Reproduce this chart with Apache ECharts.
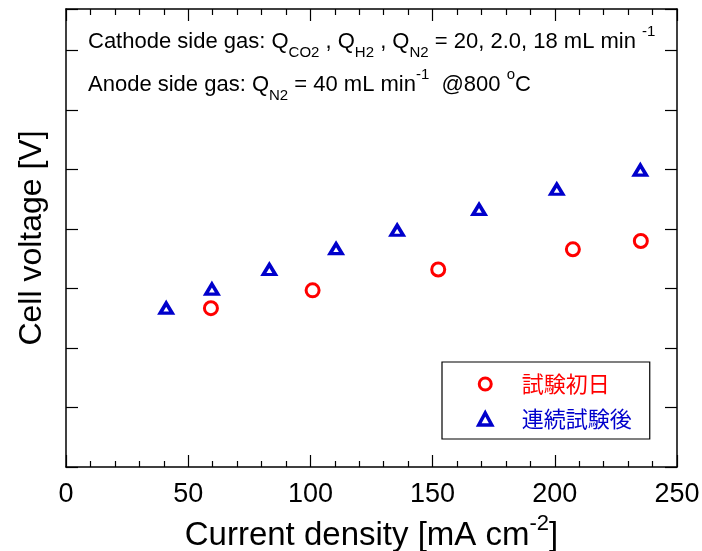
<!DOCTYPE html>
<html>
<head>
<meta charset="utf-8">
<script src="https://cdn.jsdelivr.net/npm/echarts@6/dist/echarts.min.js"></script>
<style>html,body{margin:0;padding:0;background:#fff}#c{width:702px;height:551px}</style>
</head>
<body>
<div id="c"></div>
<script>
// Data
const seriesNames = ['試験初日', '連続試験後'];
const initialDay = [[59.3,0.467],[100.9,0.497],[152.3,0.532],[207.4,0.566],[235.2,0.580]];
const afterContinuous = [[41.0,0.467],[59.7,0.499],[83.2,0.532],[110.5,0.567],[135.5,0.598],[169.0,0.633],[200.8,0.667],[235.0,0.699]];
const xTicks = [0, 50, 100, 150, 200, 250];

const LAT = "'Liberation Sans', Arial, sans-serif";
const CJK = "'Noto Sans CJK JP', sans-serif";
const chart = echarts.init(document.getElementById('c'), null, {renderer:'canvas'});

const rich = {
  n: {fontSize: 22, fontWeight: 'normal', fontFamily: LAT, color: '#000', lineHeight: 26, verticalAlign: 'middle'},
  sub: {fontSize: 15, fontWeight: 'normal', fontFamily: LAT, color: '#000', lineHeight: 15, padding: [16,0,0,0], verticalAlign: 'top'},
  sup: {fontSize: 15, fontWeight: 'normal', fontFamily: LAT, color: '#000', lineHeight: 15, padding: [0,0,16,0], verticalAlign: 'bottom'}
};

const axisLine = {show: true, onZero: false, lineStyle: {color: '#000', width: 1.5}};
const common = {
  axisLine: axisLine,
  splitLine: {show: false}
};

chart.setOption({
  animation: false,
  backgroundColor: '#fff',
  grid: {left: 66, top: 9, right: 25, bottom: 84, containLabel: false, outerBoundsMode: 'none'},
  title: [
    {left: 83, top: 24, text: '{n|Cathode side gas: Q}{sub|CO2}{n| , Q}{sub|H2}{n| , Q}{sub|N2}{n| = 20, 2.0, 18 mL min }{sup|-1}',
     textStyle: {fontWeight: 'normal', rich: rich}},
    {left: 83, top: 67, text: '{n|Anode side gas: Q}{sub|N2}{n| = 40 mL min}{sup|-1}{n|  @800 }{sup|o}{n|C}',
     textStyle: {fontWeight: 'normal', rich: rich}}
  ],
  legend: {
    orient: 'vertical', left: 442, top: 362,
    borderColor: '#000', borderWidth: 1.2, borderRadius: 0,
    padding: [11, 18, 9, 35],
    itemWidth: 13, itemHeight: 12, itemGap: 13,
    textStyle: {fontSize: 22, fontFamily: CJK, padding: [0,0,0,25]},
    data: [
      {name: seriesNames[0], textStyle: {color: '#ff0000'}, itemStyle: {borderWidth: 3}},
      {name: seriesNames[1], textStyle: {color: '#0000cc'}, itemStyle: {borderWidth: 3.5}}
    ]
  },
  xAxis: [
    Object.assign({}, common, {
      type: 'value', position: 'bottom', min: 0, max: 250, interval: 50,
      axisTick: {show: true, inside: true, length: 12, lineStyle: {color: '#000', width: 1.2}},
      minorTick: {show: true, splitNumber: 5, length: 6, lineStyle: {color: '#000', width: 1.2}},
      axisLabel: {show: true, fontSize: 27, fontFamily: LAT, color: '#000', margin: 14,
        customValues: xTicks},
      name: '{n|Current density [mA cm}{s|-2}{n|]}',
      nameLocation: 'middle', nameGap: 44,
      nameTextStyle: {rich: {
        n: {fontSize: 33, fontFamily: LAT, color: '#000', lineHeight: 37, verticalAlign: 'bottom'},
        s: {fontSize: 22, fontFamily: LAT, color: '#000', lineHeight: 22, padding: [0,0,18,0], verticalAlign: 'bottom'}
      }}
    }),
    Object.assign({}, common, {
      type: 'value', position: 'top', min: 0, max: 250, interval: 50,
      axisTick: {show: true, inside: true, length: 12, lineStyle: {color: '#000', width: 1.2}},
      minorTick: {show: true, splitNumber: 5, length: 6, lineStyle: {color: '#000', width: 1.2}},
      axisLabel: {show: false}
    })
  ],
  yAxis: [
    Object.assign({}, common, {
      type: 'value', position: 'left', min: 0.2, max: 0.97, interval: 0.1,
      axisTick: {show: true, inside: true, length: 12, lineStyle: {color: '#000', width: 1.2}},
      axisLabel: {show: false},
      name: 'Cell voltage [V]', nameLocation: 'middle', nameGap: 18,
      nameTextStyle: {fontSize: 32, fontFamily: LAT, color: '#000'}
    }),
    Object.assign({}, common, {
      type: 'value', position: 'right', min: 0.2, max: 0.97, interval: 0.1,
      axisTick: {show: true, inside: true, length: 12, lineStyle: {color: '#000', width: 1.2}},
      axisLabel: {show: false}
    })
  ],
  series: [
    {
      name: seriesNames[0], type: 'scatter', xAxisIndex: 0, yAxisIndex: 0,
      data: initialDay, symbol: 'circle', symbolSize: 13,
      itemStyle: {color: '#fff', borderColor: '#ff0000', borderWidth: 3, opacity: 1}
    },
    {
      name: seriesNames[1], type: 'scatter', xAxisIndex: 0, yAxisIndex: 0,
      data: afterContinuous, symbol: 'triangle', symbolSize: [12, 10],
      itemStyle: {color: '#fff', borderColor: '#0000cc', borderWidth: 3.5, opacity: 1}
    }
  ]
});
</script>
</body>
</html>
